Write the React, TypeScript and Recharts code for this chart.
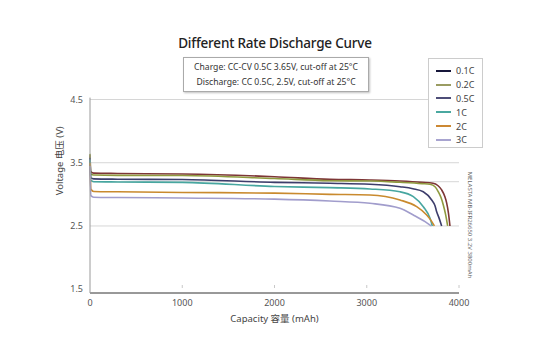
import React from 'react';
import { LineChart, Line, XAxis, YAxis, ReferenceLine } from 'recharts';

const FONT = "'Noto Sans', 'Noto Sans CJK SC', sans-serif";

// discharge curves, capacity (mAh) vs voltage (V)
const cap01 = [0, 8, 40, 300, 1000, 2000, 2600, 3035, 3360, 3600, 3718, 3770, 3812, 3845, 3866, 3886, 3902];
const v01 = [3.62, 3.36, 3.335, 3.33, 3.322, 3.279, 3.238, 3.227, 3.211, 3.19, 3.175, 3.14, 3.07, 2.97, 2.864, 2.7, 2.5];

const cap02 = [0, 8, 40, 300, 1000, 2000, 2600, 3035, 3360, 3600, 3686, 3740, 3776, 3805, 3830, 3855, 3877];
const v02 = [3.64, 3.32, 3.305, 3.30, 3.298, 3.25, 3.216, 3.211, 3.191, 3.17, 3.159, 3.12, 3.04, 2.95, 2.832, 2.68, 2.5];

const cap05 = [0, 8, 40, 300, 1000, 2000, 2600, 3035, 3360, 3500, 3613, 3704, 3740, 3758, 3785, 3812];
const v05 = [3.58, 3.26, 3.245, 3.24, 3.235, 3.19, 3.175, 3.159, 3.121, 3.09, 3.042, 2.911, 2.82, 2.726, 2.62, 2.5];

const cap1 = [0, 10, 40, 300, 1000, 2000, 2600, 3035, 3360, 3505, 3613, 3686, 3711];
const v1 = [3.55, 3.22, 3.2, 3.196, 3.19, 3.125, 3.106, 3.085, 3.04, 2.963, 2.805, 2.622, 2.5];

const cap2 = [0, 10, 40, 300, 1000, 2000, 2600, 3035, 3360, 3541, 3650, 3700, 3733];
const v2 = [3.5, 3.08, 3.045, 3.04, 3.03, 3.02, 3.0, 2.99, 2.911, 2.805, 2.674, 2.58, 2.5];

const cap3 = [0, 10, 40, 300, 1000, 2000, 2600, 3035, 3360, 3505, 3632, 3697];
const v3 = [3.45, 2.98, 2.955, 2.95, 2.942, 2.925, 2.895, 2.859, 2.78, 2.674, 2.568, 2.5];

const rates = ['0.1C', '0.2C', '0.5C', '1C', '2C', '3C'];
const caps = [cap01, cap02, cap05, cap1, cap2, cap3];
const volts = [v01, v02, v05, v1, v2, v3];
const lineColors = ['#7d3636', '#8f9a3e', '#3d3d6b', '#47a6a0', '#c98a2e', '#a19dcc'];
const legendColors = ['#16163a', '#9a9c62', '#4e4e78', '#4aa8a0', '#cc8833', '#a8a4d0'];

const xTicks = [0, 1000, 2000, 3000, 4000];
const yTicks = [1.5, 2.5, 3.5, 4.5];
const gridLines = [4.5, 3.5, 3.2, 2.5];

const series = rates.map((name, i) => ({
  name,
  data: caps[i].map((c, j) => ({ cap: c, v: volts[i][j] })),
}));

const XTick = (props: any) => {
  const { x, y, payload } = props;
  return (
    <g>
      {payload.value > 0 && <line x1={x} x2={x} y1={y - 8} y2={y - 5} stroke="#c8c8c8" />}
      <text x={x} y={y + 13} textAnchor="middle" fontSize={9} fill="#555" fontFamily={FONT}>
        {payload.value}
      </text>
    </g>
  );
};

const LegendBox = () => (
  <div
    style={{
      position: 'absolute', left: 428, top: 58,
      border: '1px solid #ccc',
      background: '#fff',
      width: 55,
      height: 90,
      boxSizing: 'border-box',
      padding: '5px 0 0 7px',
    }}
  >
    {rates.map((r, i) => (
      <div key={r} style={{ display: 'flex', alignItems: 'center', height: 13.8 }}>
        <span style={{ display: 'inline-block', width: 15, height: 2, background: legendColors[i] }} />
        <span style={{ fontSize: 9, color: '#444', marginLeft: 5 }}>{r}</span>
      </div>
    ))}
  </div>
);

export default function App() {
  return (
    <div style={{ position: 'absolute', left: 0, top: 0, width: 550, height: 356, background: '#fff', fontFamily: FONT }}>
      <div
        style={{
          position: 'absolute', left: 0, width: 550, top: 34, textAlign: 'center',
          fontSize: 13.5, fontWeight: 500, color: '#222', letterSpacing: -0.2,
        }}
      >
        Different Rate Discharge Curve
      </div>
      <div
        style={{
          position: 'absolute', left: 183, top: 57, width: 186, height: 35, boxSizing: 'border-box',
          border: '1px solid #aaa', boxShadow: '1px 1px 2px rgba(0,0,0,0.25)', background: '#fff',
          fontSize: 8.6, color: '#333', textAlign: 'center', lineHeight: '15px', paddingTop: 2,
        }}
      >
        <div>Charge: CC-CV 0.5C 3.65V, cut-off at 25°C</div>
        <div>Discharge: CC 0.5C, 2.5V, cut-off at 25°C</div>
      </div>
      <LineChart width={550} height={356} margin={{ top: 97.6, right: 91, left: 50, bottom: 33 }}>
        {gridLines.map((g) => (
          <ReferenceLine key={g} y={g} stroke="#d6d6d6" strokeWidth={1} />
        ))}
        <XAxis
          type="number"
          dataKey="cap"
          domain={[0, 4000]}
          ticks={xTicks}
          allowDuplicatedCategory={false}
          height={30}
          tickSize={0}
          tickMargin={0}
          tick={<XTick />}
          stroke="#333"
          label={{ value: 'Capacity 容量 (mAh)', position: 'insideBottom', offset: 0, dy: -1, fontSize: 9.5, fill: '#444', fontFamily: FONT }}
        />
        <YAxis
          type="number"
          domain={[1.44, 4.53]}
          ticks={yTicks}
          width={40}
          tickSize={0}
          tickMargin={7}
          stroke="#9a9a9a"
          tick={{ fontSize: 9, fill: '#555', fontFamily: FONT }}
          label={{ value: 'Voltage 电压 (V)', angle: -90, position: 'insideLeft', offset: 10, dy: 0, fontSize: 9.5, fill: '#444', fontFamily: FONT }}
        />
        {series.map((s, i) => (
          <Line
            key={s.name}
            data={s.data}
            dataKey="v"
            name={s.name}
            type="monotone"
            stroke={lineColors[i]}
            strokeWidth={1.6}
            dot={false}
            isAnimationActive={false}
          />
        ))}
      </LineChart>
      <LegendBox />
      <div
        style={{
          position: 'absolute', left: 470, top: 225, transform: 'translate(-50%, -50%) rotate(90deg)',
          whiteSpace: 'nowrap', fontSize: 6, color: '#666',
        }}
      >
        MELASTA MB-IFR26650 3.2V 3800mAh
      </div>
    </div>
  );
}
